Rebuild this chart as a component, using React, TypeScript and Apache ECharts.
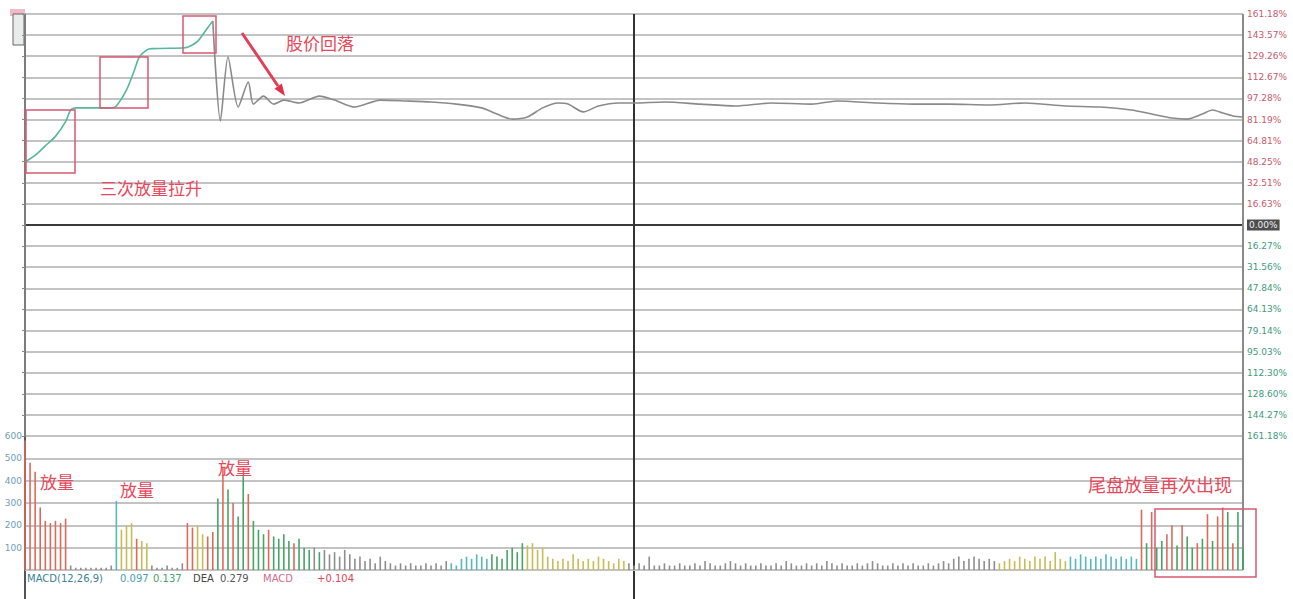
import React, { useEffect, useRef } from "react";
import * as echarts from "echarts";

// ---- price line (minute index 0..240, change value on the price scale) ----
const priceMinutes = [
  0, 2, 4, 6, 8, 9, 10, 17, 18, 20,
  21.5, 22.5, 24, 25, 31, 32, 34, 36, 37, 38.5,
  40, 42, 44, 45, 47, 49, 51, 54, 58, 61,
  65, 70, 75, 80, 85, 90, 93, 96, 99, 102,
  105, 107, 110, 113, 117, 120, 126, 133, 140, 147,
  155, 160, 168, 175, 182, 190, 197, 205, 212, 218,
  222, 226, 229, 232, 234, 236, 238, 240,
];
const priceValues = [
  2.99, 3.3, 3.75, 4.2, 4.9, 5.45, 5.55, 5.55, 5.64, 6.4,
  7.3, 7.95, 8.3, 8.36, 8.39, 8.42, 8.7, 9.35, 9.67, 4.93,
  7.96, 5.59, 6.78, 5.73, 6.11, 5.73, 5.92, 5.78, 6.11, 5.92,
  5.59, 5.92, 5.88, 5.83, 5.73, 5.55, 5.26, 5.02, 5.12, 5.55,
  5.78, 5.73, 5.36, 5.64, 5.78, 5.78, 5.83, 5.73, 5.64, 5.78,
  5.73, 5.88, 5.78, 5.73, 5.73, 5.69, 5.78, 5.64, 5.59, 5.45,
  5.26, 5.07, 5.02, 5.26, 5.45, 5.31, 5.17, 5.12,
];
// minute at which the line turns from the teal run-up to the gray part
const runUpEndMinute = 37;

// right axis tick labels, from bottom (-10) to top (+10)
const rightTickLabels = [
  "161.18%", "144.27%", "128.60%", "112.30%", "95.03%", "79.14%", "64.13%",
  "47.84%", "31.56%", "16.27%", "0.00%", "16.63%", "32.51%", "48.25%",
  "64.81%", "81.19%", "97.28%", "112.67%", "129.26%", "143.57%", "161.18%",
];
const volumeTickLabels = ["", "100", "200", "300", "400", "500", "600"];

// ---- volume per minute ----
const volumes = [
  5.8, 4.8, 4.4, 2.8, 2.2, 2.1, 2.2, 2.1, 2.3, 0.2,
  0.1, 0.1, 0.1, 0.1, 0.1, 0.1, 0.1, 0.2, 3.1, 1.8,
  2.0, 2.1, 1.4, 1.3, 1.2, 0.2, 0.1, 0.1, 0.2, 0.1,
  0.1, 0.3, 2.1, 1.9, 2.0, 1.6, 1.5, 1.7, 3.2, 4.6,
  3.6, 3.0, 2.4, 4.2, 3.4, 2.2, 1.8, 1.6, 1.8, 1.5,
  1.4, 1.6, 1.3, 1.2, 1.4, 1.0, 0.9, 1.0, 0.8, 0.9,
  0.7, 0.8, 0.6, 0.9, 0.7, 0.5, 0.6, 0.4, 0.5, 0.3,
  0.6, 0.4, 0.3, 0.2, 0.3, 0.2, 0.3, 0.2, 0.2, 0.3,
  0.2, 0.3, 0.2, 0.4, 0.3, 0.2, 0.5, 0.6, 0.5, 0.7,
  0.6, 0.5, 0.7, 0.6, 0.5, 0.9, 1.0, 0.8, 1.2, 1.1,
  1.2, 0.9, 1.0, 0.6, 0.5, 0.4, 0.5, 0.4, 0.7, 0.5,
  0.4, 0.5, 0.4, 0.6, 0.5, 0.4, 0.3, 0.5, 0.4, 0.3,
  0.2, 0.3, 0.2, 0.6, 0.2, 0.2, 0.3, 0.2, 0.2, 0.3,
  0.2, 0.2, 0.3, 0.2, 0.4, 0.3, 0.2, 0.2, 0.3, 0.4,
  0.3, 0.2, 0.3, 0.2, 0.2, 0.3, 0.2, 0.2, 0.3, 0.2,
  0.4, 0.3, 0.2, 0.2, 0.3, 0.2, 0.3, 0.2, 0.4, 0.3,
  0.2, 0.3, 0.2, 0.2, 0.3, 0.2, 0.3, 0.4, 0.3, 0.2,
  0.2, 0.3, 0.2, 0.3, 0.2, 0.3, 0.2, 0.2, 0.3, 0.2,
  0.3, 0.4, 0.3, 0.5, 0.6, 0.4, 0.5, 0.6, 0.5, 0.4,
  0.5, 0.4, 0.3, 0.4, 0.5, 0.4, 0.6, 0.5, 0.4, 0.6,
  0.5, 0.6, 0.4, 0.8, 0.5, 0.4, 0.6, 0.5, 0.7, 0.6,
  0.5, 0.6, 0.5, 0.7, 0.6, 0.5, 0.6, 0.5, 0.6, 0.5,
  2.7, 1.2, 2.6, 1.0, 1.3, 1.6, 2.0, 1.1, 2.0, 1.5,
  1.0, 1.2, 1.4, 2.5, 1.3, 2.4, 2.8, 2.6, 1.2, 2.6,
  1.0,
];
// tone of each minute's bar (r up, g down, y / c / k other)
const volumeTones = [
  "rrrrrrrrrk", "kkkkkkkkcy", "yyryykkkkk", "kkrryyrrgr", "grggrgggrg",
  "gggrgggkgk", "kkkkkkkkkk", "kkkkkkkkkk", "kkkkcccccc", "ccgggggggy",
  "yyyyyyyyyy", "yyyyyyyyyk", "kkkkkkkkkk", "kkkkkkkkkk", "kkkkkkkkkk",
  "kkkkkkkkkk", "kkkkkkkkkk", "kkkkkkkkkk", "kkkkkkkkkk", "kkyyyyyyyy",
  "yyyyyycccc", "cccccccccc", "rgrggrrgrg", "grgrgrrgrg", "g",
].join("");

const toneColor: Record<string, string> = {
  r: "#e0685a",
  g: "#45a565",
  y: "#c9bb55",
  c: "#55b8bd",
  k: "#8e8e8e",
};

const RED_TXT = "#e8485a";
const CJK = '"Noto Sans CJK SC", "Noto Sans", sans-serif';

export default function App() {
  const ref = useRef<HTMLDivElement>(null);

  useEffect(() => {
    if (!ref.current) return;
    const chart = echarts.init(ref.current, undefined, { renderer: "svg" });

    const allPts = priceMinutes.map((m, i) => [m, priceValues[i]]);
    const runUp = allPts.filter((p) => p[0] <= runUpEndMinute);
    const rest = allPts.filter((p) => p[0] >= runUpEndMinute);
    const barData = volumes.map((v, i) => ({
      value: [i, v],
      itemStyle: { color: toneColor[volumeTones[i] || "k"] },
    }));

    const priceSplitColors = rightTickLabels.map((_, i) =>
      i === 10 ? "#3a3a3a" : i === 0 ? "#7a7a7a" : "#c3c3c3"
    );

    const box = (x: number, y: number, w: number, h: number) => ({
      type: "rect",
      shape: { x, y, width: w, height: h },
      style: { fill: "none", stroke: "#d65a70", lineWidth: 1.5 },
      z: 100,
    });
    const label = (text: string, x: number, y: number, size: number) => ({
      type: "text",
      x,
      y,
      style: {
        text,
        fill: RED_TXT,
        fontSize: size,
        fontFamily: CJK,
        verticalAlign: "middle",
        align: "left",
      },
      z: 100,
    });
    const small = (text: string, x: number, color: string) => ({
      type: "text",
      x,
      y: 578,
      style: {
        text,
        fill: color,
        fontSize: 10,
        fontFamily: "DejaVu Sans, sans-serif",
        verticalAlign: "middle",
        align: "left",
      },
      z: 100,
    });

    const xAx = (gridIndex: number) => ({
      type: "value",
      gridIndex,
      min: 0,
      max: 240,
      interval: 120,
      axisLine: { show: false },
      axisTick: { show: false },
      axisLabel: { show: false },
      splitLine: {
        show: true,
        lineStyle: { color: ["#555555", "#333333", "#8a8a8a"], width: 2 },
      },
    });

    chart.setOption({
      animation: false,
      backgroundColor: "#ffffff",
      grid: [
        { left: 25, right: 50, top: 14, height: 422 },
        { left: 25, right: 50, top: 436, height: 134 },
      ],
      xAxis: [xAx(0), xAx(1)],
      yAxis: [
        {
          type: "value",
          gridIndex: 0,
          position: "right",
          min: -10,
          max: 10,
          interval: 1,
          axisLine: { show: true, lineStyle: { color: "#8a8a8a", width: 1.5 } },
          axisTick: { show: true, length: 3, inside: true, lineStyle: { color: "#8a8a8a" } },
          axisLabel: {
            margin: 4,
            fontSize: 9,
            fontFamily: "DejaVu Sans, sans-serif",
            color: (v: any) => {
              const n = Number(v);
              return n > 0 ? "#c85a6c" : n < 0 ? "#3f9a7c" : "#f0f0f0";
            },
            formatter: (v: number) => {
              const idx = Math.round(v + 10);
              const s = rightTickLabels[idx] || "";
              return idx === 10 ? `{z|${s}}` : s;
            },
            rich: {
              z: {
                backgroundColor: "#4d4d4d",
                color: "#f0f0f0",
                fontSize: 9,
                padding: [1, 2],
              },
            },
          },
          splitLine: { show: true, lineStyle: { color: priceSplitColors, width: 2 } },
        },
        {
          type: "value",
          gridIndex: 1,
          position: "left",
          min: 0,
          max: 6,
          interval: 1,
          axisLine: { show: false },
          axisTick: { show: false },
          axisLabel: {
            margin: 3,
            fontSize: 9,
            color: "#6f9db8",
            fontFamily: "DejaVu Sans, sans-serif",
            formatter: (v: number) => volumeTickLabels[Math.round(v)] || "",
          },
          splitLine: { show: true, lineStyle: { color: "#c3c3c3", width: 2 } },
        },
      ],
      series: [
        {
          type: "line",
          xAxisIndex: 0,
          yAxisIndex: 0,
          data: runUp,
          symbol: "none",
          smooth: 0.25,
          lineStyle: { width: 1.6, color: "#55b89c" },
          z: 5,
        },
        {
          type: "line",
          xAxisIndex: 0,
          yAxisIndex: 0,
          data: rest,
          symbol: "none",
          smooth: 0.25,
          lineStyle: { width: 1.6, color: "#8a8a8a" },
          z: 5,
        },
        {
          type: "bar",
          xAxisIndex: 1,
          yAxisIndex: 1,
          data: barData,
          barWidth: 1.6,
          z: 5,
        },
      ],
      graphic: [
        { type: "line", shape: { x1: 634, y1: 570, x2: 634, y2: 599 }, style: { stroke: "#333", lineWidth: 2 } },
        { type: "line", shape: { x1: 25, y1: 570, x2: 25, y2: 599 }, style: { stroke: "#555", lineWidth: 2 } },
        { type: "rect", shape: { x: 10, y: 9, width: 15, height: 7 }, style: { fill: "#f3b9c6" } },
        { type: "rect", shape: { x: 13, y: 14, width: 11, height: 31 }, style: { fill: "#e9ecea", stroke: "#666", lineWidth: 1 } },
        box(26, 110, 49, 63),
        box(100, 57, 48, 51),
        box(183, 16, 33, 37),
        box(1155, 509, 101, 68),
        label("三次放量拉升", 100, 187, 17),
        label("股价回落", 286, 42, 17),
        label("放量", 40, 481, 17),
        label("放量", 120, 489, 17),
        label("放量", 218, 467, 17),
        label("尾盘放量再次出现", 1088, 484, 18),
        {
          type: "line",
          shape: { x1: 242, y1: 33, x2: 278, y2: 86 },
          style: { stroke: "#e0405a", lineWidth: 3 },
          z: 100,
        },
        {
          type: "polygon",
          shape: { points: [[285, 96], [274.5, 88.8], [281.8, 83.6]] },
          style: { fill: "#e0304a" },
          z: 100,
        },
        small("MACD(12,26,9)", 27, "#3c7f96"),
        small("0.097", 120, "#4aa0b0"),
        small("0.137", 153, "#4aa070"),
        small("DEA", 193, "#444"),
        small("0.279", 220, "#555"),
        small("MACD", 263, "#d66a88"),
        small("+0.104", 317, "#e0485a"),
      ],
    });

    return () => chart.dispose();
  }, []);

  return (
    <div
      ref={ref}
      style={{ position: "fixed", left: 0, top: 0, width: 1293, height: 599, background: "#fff" }}
    />
  );
}
